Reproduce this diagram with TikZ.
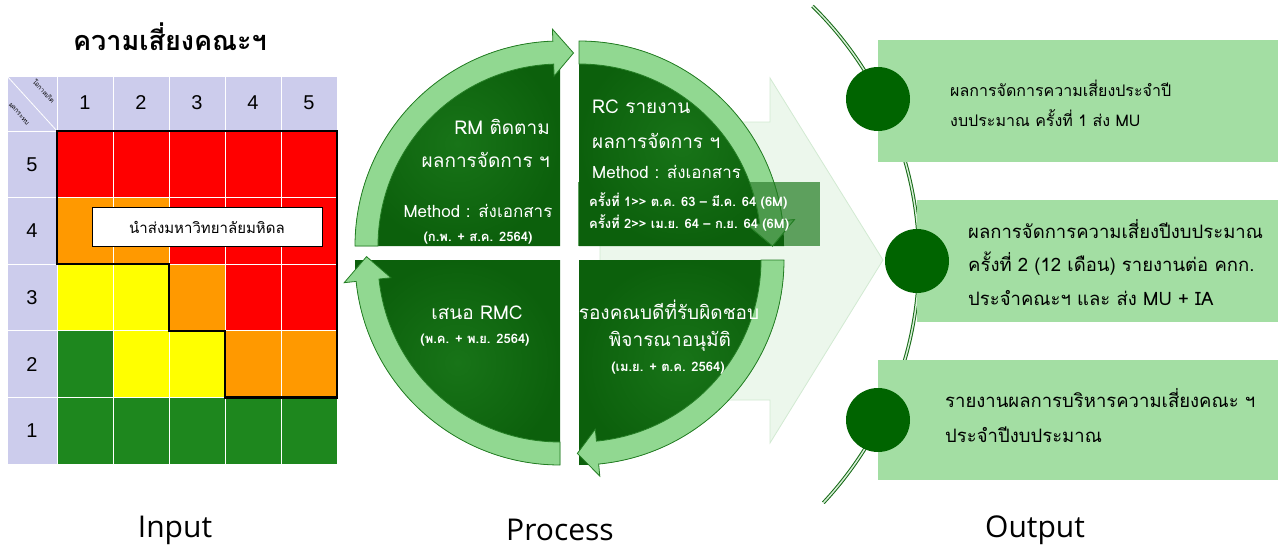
\documentclass[tikz,border=0pt]{standalone}
\usepackage{fontspec}
\usetikzlibrary{calc}
\newfontfamily\thf[Script=Thai]{Loma}
\newfontfamily\arialf{Liberation Sans}
\newfontfamily\iof{Open Sans}
\definecolor{lav}{RGB}{204,204,236}
\definecolor{mred}{RGB}{255,0,0}
\definecolor{morange}{RGB}{255,153,0}
\definecolor{myellow}{RGB}{255,255,0}
\definecolor{mgreen}{RGB}{30,135,30}
\definecolor{qdark}{RGB}{12,96,12}
\definecolor{qlight}{RGB}{24,116,24}
\definecolor{band}{RGB}{145,216,145}
\definecolor{bandline}{RGB}{35,125,35}
\definecolor{obox}{RGB}{163,222,163}
\definecolor{ocirc}{RGB}{0,100,0}
\definecolor{faint}{RGB}{236,247,236}
\definecolor{faintline}{RGB}{210,234,210}
\definecolor{tbox}{RGB}{93,160,93}
\definecolor{tband}{RGB}{76,154,76}
\definecolor{arcline}{RGB}{20,105,20}
\definecolor{arcfill}{RGB}{215,238,215}
\newcommand\sectp[4]{(#1,#2) -- ($(#1,#2)+(#3:205)$) arc[start angle=#3, end angle=#4, radius=205] -- cycle}
\newcommand\bandp[5]{($(#1,#2)+(#3:205)$) arc[start angle=#3, end angle=#4, radius=205]
  -- ($(#1,#2)+(#4:217)$) -- ($(#1,#2)+(#5:193.5)$) -- ($(#1,#2)+(#4:170)$)
  -- ($(#1,#2)+(#4:182)$) arc[start angle=#4, end angle=#3, radius=182] -- cycle}
\tikzset{
  qtxt/.style={text=white, font=\thf\fontsize{19}{22}\selectfont, inner sep=0pt},
  qmeth/.style={text=white, font=\thf\fontsize{17}{20}\selectfont, inner sep=0pt},
  qsmall/.style={text=white, font=\thf\bfseries\fontsize{13}{16}\selectfont, inner sep=0pt},
  otxt/.style={text=black, font=\thf\fontsize{17}{20}\selectfont, inner sep=0pt, anchor=west},
  numtxt/.style={font=\arialf\fontsize{20}{22}\selectfont, inner sep=0pt},
  bigtxt/.style={font=\iof\fontsize{30}{33}\selectfont, inner sep=0pt},
  bandsty/.style={fill=band, draw=bandline, line width=0.8pt, line join=miter},
  quad/.style={inner color=qlight, outer color=qdark},
  obxsty/.style={fill=obox},
  ocsty/.style={fill=ocirc},
  diagtxt/.style={font=\thf\fontsize{6.5}{7}\selectfont, rotate=-48, inner sep=0pt},
}
\begin{document}
\begin{tikzpicture}[x=1pt,y=-1pt]
\useasboundingbox (0,0) rectangle (1278,551);
\fill[white] (0,0) rectangle (1278,551);

% ---------- risk matrix ----------
\node[font=\thf\bfseries\fontsize{27}{30}\selectfont, inner sep=0pt] (title) at (170,37) {ความเสี่ยงคณะฯ};
\fill[lav] (7,76) rectangle (337,131);
\fill[lav] (7,131) rectangle (57,464);
\foreach \r/\lst in {0/{mred,mred,mred,mred,mred},1/{morange,morange,mred,mred,mred},2/{myellow,myellow,morange,mred,mred},3/{mgreen,myellow,myellow,morange,morange},4/{mgreen,mgreen,mgreen,mgreen,mgreen}}{
  \foreach \c [count=\i from 0] in \lst {
    \fill[\c] (57+56*\i,131+66.6*\r) rectangle ++(56,66.6);
  }
}
\foreach \i in {0,...,5} \draw[white, line width=0.8pt] (57+56*\i,76) -- (57+56*\i,464);
\foreach \r in {0,...,5} \draw[white, line width=0.8pt] (7,131+66.6*\r) -- (337,131+66.6*\r);
\draw[white, line width=0.8pt] (7,76) -- (337,76) (7,76) -- (7,464);
\draw[white, line width=0.8pt] (7,76) -- (57,131);
\node[diagtxt] (hlik) at (44,91) {โอกาสเกิด};
\node[diagtxt] (himp) at (19,114) {ผลกระทบ};
\foreach \i in {1,...,5} \node[numtxt] (c\i) at (29+56*\i,103) {\i};
\foreach \r/\v in {0/5,1/4,2/3,3/2,4/1} \node[numtxt] (r\v) at (32,164.3+66.6*\r) {\v};
\draw[line width=2.2pt, line join=miter] (57,131) -- (337,131) -- (337,397.4) -- (225,397.4) -- (225,330.8) -- (169,330.8) -- (169,264.2) -- (57,264.2) -- cycle;
\node[draw=black, fill=white, line width=0.8pt, minimum width=230pt, minimum height=39pt, inner sep=0pt,
  font=\thf\fontsize{15}{18}\selectfont] (mu) at (207,227) {นำส่งมหาวิทยาลัยมหิดล};
\node[bigtxt] (input) at (175,530) {Input};

% ---------- process ----------
\filldraw[fill=faint, draw=faintline, line width=0.8pt] (600,122) -- (770,122) -- (770,78) -- (883,260) -- (770,443) -- (770,400) -- (600,400) -- cycle;
\fill[tbox] (578,182) rectangle (820,246);
\shade[quad] \sectp{560}{246}{180}{270};
\shade[quad] \sectp{579}{246}{270}{360};
\shade[quad] \sectp{579}{260}{0}{90};
\shade[quad] \sectp{560}{260}{90}{180};
\filldraw[bandsty] \bandp{560}{246}{180}{268}{274};
\filldraw[bandsty] \bandp{579}{246}{270}{353}{360};
\filldraw[bandsty] \bandp{579}{260}{0}{84.5}{90.5};
\filldraw[bandsty] \bandp{560}{260}{90}{174}{181};
\begin{scope}
  \clip (578,182) rectangle (820,246);
  \filldraw[fill=tband, draw=bandline, line width=0.8pt] \bandp{579}{246}{270}{353}{360};
\end{scope}

\node[qtxt, anchor=east] (tl1) at (550,127) {RM ติดตาม};
\node[qtxt, anchor=east] (tl2) at (550,160) {ผลการจัดการ ฯ};
\node[qmeth] (tl3) at (478,211) {Method : ส่งเอกสาร};
\node[qsmall] (tl4) at (478,238) {(ก.พ. + ส.ค. 2564)};

\node[qtxt, anchor=west] (tr1) at (592,107) {RC รายงาน};
\node[qtxt, anchor=west] (tr2) at (592,141) {ผลการจัดการ ฯ};
\node[qmeth, anchor=west] (tr3) at (592,172) {Method : ส่งเอกสาร};
\node[qsmall, anchor=west] (tr4) at (589,201) {ครั้งที่ 1>> ต.ค. 63 – มี.ค. 64 (6M)};
\node[qsmall, anchor=west] (tr5) at (589,223) {ครั้งที่ 2>> เม.ย. 64 – ก.ย. 64 (6M)};

\node[qtxt] (bl1) at (477,313) {เสนอ RMC};
\node[qsmall] (bl2) at (475,340) {(พ.ค. + พ.ย. 2564)};

\node[qtxt] (br1) at (669,310) {รองคณบดีที่รับผิดชอบ};
\node[qtxt] (br2) at (670,341) {พิจารณาอนุมัติ};
\node[qsmall] (br3) at (668,368) {(เม.ย. + ต.ค. 2564)};

\node[bigtxt] (process) at (560,530) {Process};

% ---------- output ----------
\draw[draw=arcline, double=arcfill, double distance=1.5pt, line width=1pt]
  ($(563,260)+(-45.5:356)$) arc[start angle=-45.5, end angle=43, radius=356];
\fill[obxsty] (878,40) rectangle (1278,162);
\fill[obxsty] (917,200) rectangle (1278,322);
\fill[obxsty] (878,360) rectangle (1278,480);
\fill[ocsty] (878,99) circle[radius=32];
\fill[ocsty] (917,261) circle[radius=32];
\fill[ocsty] (878,420) circle[radius=32];
\node[otxt, font=\thf\fontsize{16}{19}\selectfont] (o11) at (950,88) {ผลการจัดการความเสี่ยงประจำปี};
\node[otxt, font=\thf\fontsize{16}{19}\selectfont] (o12) at (950,118) {งบประมาณ ครั้งที่ 1 ส่ง MU};
\node[otxt, font=\thf\fontsize{18.5}{21}\selectfont] (o21) at (968,229) {ผลการจัดการความเสี่ยงปีงบประมาณ};
\node[otxt, font=\thf\fontsize{18.5}{21}\selectfont] (o22) at (968,264) {ครั้งที่ 2 (12 เดือน) รายงานต่อ คกก.};
\node[otxt, font=\thf\fontsize{18.5}{21}\selectfont] (o23) at (968,298) {ประจำคณะฯ และ ส่ง MU + IA};
\node[otxt, font=\thf\fontsize{18.5}{21}\selectfont] (o31) at (945,398) {รายงานผลการบริหารความเสี่ยงคณะ ฯ};
\node[otxt, font=\thf\fontsize{18.5}{21}\selectfont] (o32) at (945,435) {ประจำปีงบประมาณ};
\node[bigtxt] (output) at (1035,530) {Output};
\end{tikzpicture}
\end{document}
